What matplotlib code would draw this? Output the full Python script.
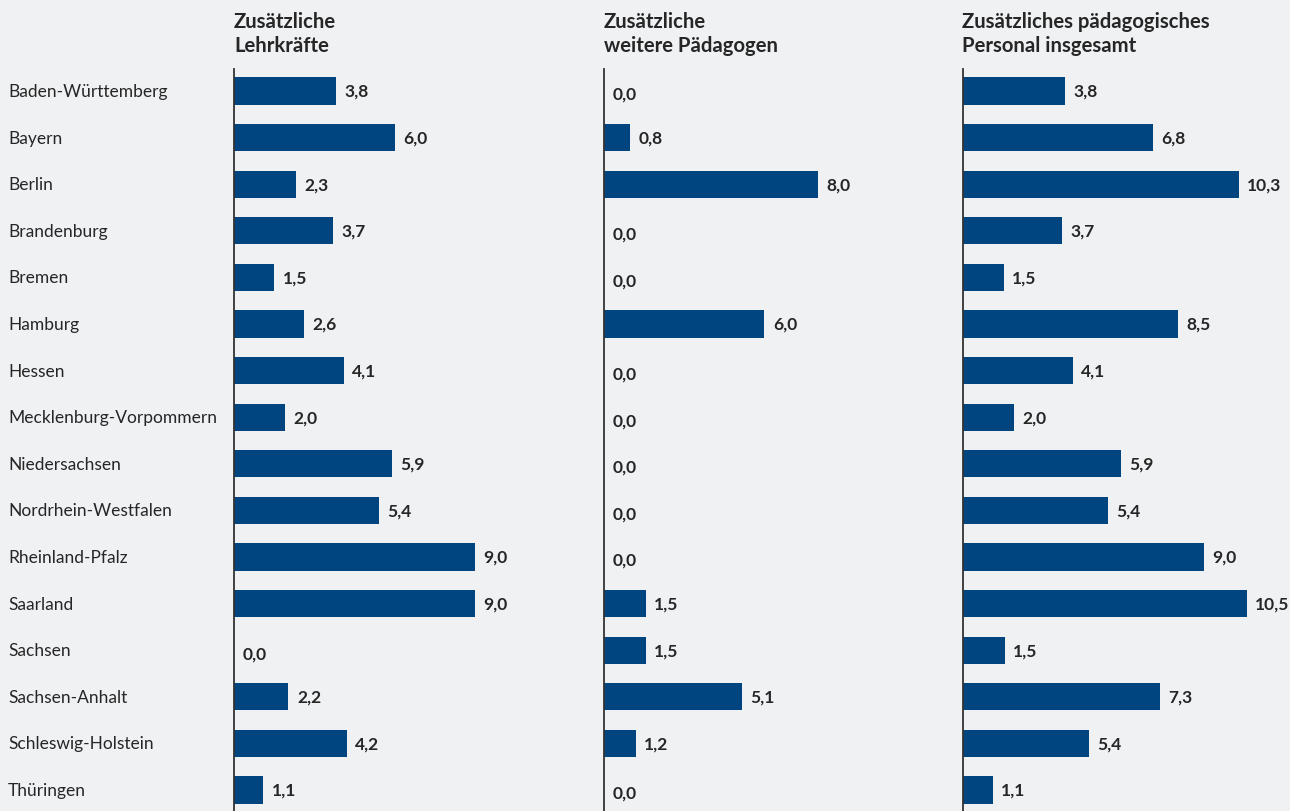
import matplotlib
matplotlib.use("Agg")
import matplotlib.pyplot as plt
from matplotlib.transforms import blended_transform_factory

plt.rcParams['font.family'] = ['Lato', 'DejaVu Sans']

laender = ["Baden-Württemberg", "Bayern", "Berlin", "Brandenburg", "Bremen", "Hamburg",
           "Hessen", "Mecklenburg-Vorpommern", "Niedersachsen", "Nordrhein-Westfalen",
           "Rheinland-Pfalz", "Saarland", "Sachsen", "Sachsen-Anhalt",
           "Schleswig-Holstein", "Thüringen"]

# printed value labels
lehrkraefte_lab = ["3,8", "6,0", "2,3", "3,7", "1,5", "2,6", "4,1", "2,0", "5,9", "5,4",
                   "9,0", "9,0", "0,0", "2,2", "4,2", "1,1"]
paedagogen_lab = ["0,0", "0,8", "8,0", "0,0", "0,0", "6,0", "0,0", "0,0", "0,0", "0,0",
                  "0,0", "1,5", "1,5", "5,1", "1,2", "0,0"]
insgesamt_lab = ["3,8", "6,8", "10,3", "3,7", "1,5", "8,5", "4,1", "2,0", "5,9", "5,4",
                 "9,0", "10,5", "1,5", "7,3", "5,4", "1,1"]

# bar lengths as drawn in the picture
lehrkraefte = [3.8, 6.0, 2.3, 3.7, 1.5, 2.6, 4.1, 1.9, 5.9, 5.4, 9.0, 9.0, 0.0, 2.03, 4.2, 1.1]
paedagogen = [0.0, 0.98, 8.0, 0.0, 0.0, 6.0, 0.0, 0.0, 0.0, 0.0, 0.0, 1.58, 1.58, 5.16, 1.2, 0.0]
insgesamt = [3.82, 7.1, 10.31, 3.7, 1.54, 8.03, 4.12, 1.91, 5.9, 5.42, 9.0, 10.6, 1.58, 7.36, 4.71, 1.13]

titel = [["Zusätzliche", "Lehrkräfte"], ["Zusätzliche", "weitere Pädagogen"],
         ["Zusätzliches pädagogisches", "Personal insgesamt"]]
serien = [lehrkraefte, paedagogen, insgesamt]
labels = [lehrkraefte_lab, paedagogen_lab, insgesamt_lab]

W, H = 1290, 812
BG = "#f0f1f3"
BAR = "#004580"
TXT = "#262626"

fig = plt.figure(figsize=(W / 100, H / 100), dpi=100, facecolor=BG)

lefts = [234, 603.5, 962.5]
px_per_unit = 26.8
xmax = 12.0
ax_top, ax_bot = 70, 812
n = len(laender)
spacing = 46.6
y0 = 92
ytop = (ax_top - y0) / spacing
ybot = (ax_bot - y0) / spacing

for i, (left, vals, labs, t) in enumerate(zip(lefts, serien, labels, titel)):
    width_px = xmax * px_per_unit
    ax = fig.add_axes([left / W, 1 - ax_bot / H, width_px / W, (ax_bot - ax_top) / H])
    ax.patch.set_alpha(0)
    ypos = list(range(n))
    ax.barh(ypos, vals, height=0.58, color=BAR, zorder=2)
    ax.set_xlim(0, xmax)
    ax.set_ylim(ybot, ytop)
    for s in ["top", "right", "bottom"]:
        ax.spines[s].set_visible(False)
    ax.spines["left"].set_color("#333333")
    ax.spines["left"].set_linewidth(1.3)
    ax.spines["left"].set_zorder(3)
    ax.set_xticks([])
    ax.set_yticks([])
    for y, v, lab in zip(ypos, vals, labs):
        if v == 0:
            ax.annotate(lab, (0, y), xytext=(9, -3), textcoords="offset pixels",
                        ha="left", va="center", fontsize=12.5, fontweight="bold", color=TXT)
        else:
            ax.annotate(lab, (v, y), xytext=(8.5, 0), textcoords="offset pixels",
                        ha="left", va="center", fontsize=12.5, fontweight="bold", color=TXT)
    for k, line in enumerate(t):
        fig.text(left / W, 1 - (28.5 + 24 * k) / H, line, ha="left", va="baseline",
                 fontsize=14.6, fontweight="bold", color=TXT)
    if i == 0:
        tr = blended_transform_factory(fig.transFigure, ax.transData)
        for y, name in zip(ypos, laender):
            ax.text(8 / W, y, name, transform=tr, ha="left", va="center",
                    fontsize=12.5, color=TXT)

fig.savefig("out.png", dpi=100, facecolor=BG)
